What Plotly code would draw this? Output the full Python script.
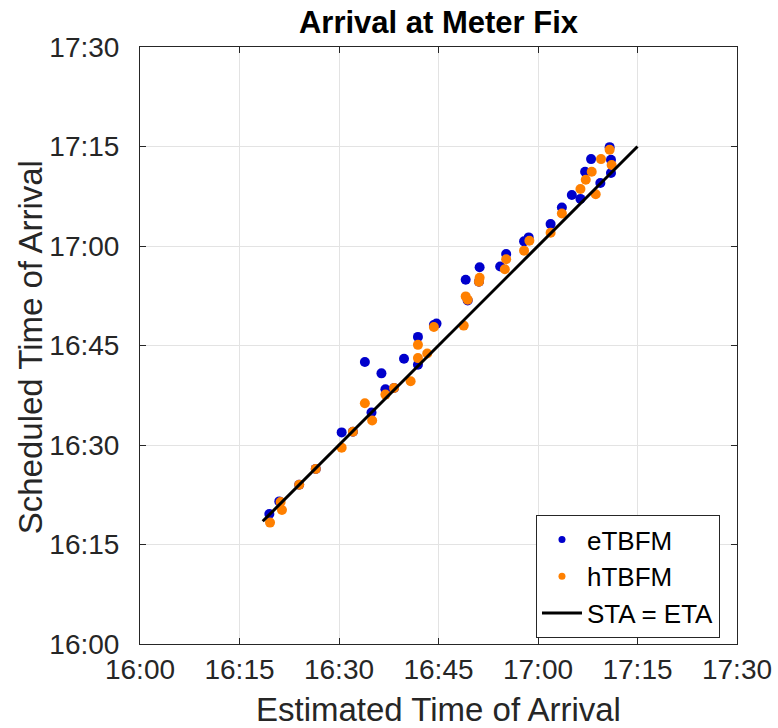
import plotly.graph_objects as go

# minutes after 16:00
etbfm_eta = [19.5, 21.0, 24.0, 26.5, 30.4, 32.1, 33.9, 34.9, 36.4, 37.0, 38.3, 39.8, 41.9, 41.9,
             44.3, 44.7, 49.1, 49.4, 51.1, 51.2, 54.3, 55.2, 57.9, 58.6, 61.9, 63.6, 65.1, 66.4,
             67.1, 68.0, 69.4, 70.8, 71.0, 71.0]
etbfm_sta = [19.6, 21.5, 24.0, 26.4, 31.9, 32.0, 42.5, 34.9, 40.8, 38.4, 38.6, 43.0, 46.3, 42.1,
             48.1, 48.3, 54.9, 51.8, 54.6, 56.8, 56.9, 58.8, 60.7, 61.3, 63.3, 65.8, 67.7, 67.1,
             71.2, 73.1, 69.5, 74.9, 73.0, 71.0]

htbfm_eta = [19.6, 21.2, 21.4, 24.0, 26.5, 30.4, 32.1, 33.9, 35.0, 37.0, 38.3, 40.8, 41.9, 41.9,
             43.3, 44.3, 48.8, 49.1, 49.4, 51.1, 51.2, 55.0, 55.2, 57.9, 58.7, 61.9, 63.6, 66.4,
             67.2, 68.1, 68.7, 69.5, 70.8, 71.1]
htbfm_sta = [18.3, 21.4, 20.2, 24.0, 26.4, 29.6, 32.0, 36.3, 33.7, 37.6, 38.6, 39.6, 45.1, 43.1,
             43.8, 47.8, 48.0, 52.4, 51.9, 54.6, 55.2, 56.5, 58.0, 59.3, 60.8, 62.0, 64.9, 68.6,
             70.0, 71.2, 67.8, 73.1, 74.5, 72.2]

ref_line = [18.5, 75.0]

tick_vals = [0, 15, 30, 45, 60, 75, 90]
tick_labels = ["16:00", "16:15", "16:30", "16:45", "17:00", "17:15", "17:30"]

x_title = "Estimated Time of Arrival"
y_title = "Scheduled Time of Arrival"

BLUE = "#0000cc"
ORANGE = "#ff8000"
AX = "#262626"
FONT = "Liberation Sans, Arial, sans-serif"

W, H = 778, 728
L, T = 140, 47
PW, PH = 597, 597

fig = go.Figure()
fig.add_trace(go.Scatter(x=etbfm_eta, y=etbfm_sta, mode="markers", name="eTBFM", showlegend=False,
                         marker=dict(symbol="circle", size=10, color=BLUE)))
fig.add_trace(go.Scatter(x=htbfm_eta, y=htbfm_sta, mode="markers", name="hTBFM", showlegend=False,
                         marker=dict(symbol="circle", size=10, color=ORANGE)))
fig.add_trace(go.Scatter(x=ref_line, y=ref_line, mode="lines", name="STA = ETA", showlegend=False,
                         line=dict(color="black", width=3)))
# legend entries (smaller markers, as in the reference legend)
fig.add_trace(go.Scatter(x=[None], y=[None], mode="markers", name="eTBFM",
                         marker=dict(symbol="circle", size=7, color=BLUE)))
fig.add_trace(go.Scatter(x=[None], y=[None], mode="markers", name="hTBFM",
                         marker=dict(symbol="circle", size=7, color=ORANGE)))
fig.add_trace(go.Scatter(x=[None], y=[None], mode="lines", name="STA = ETA",
                         line=dict(color="black", width=3)))

axis_common = dict(range=[0, 90], tickvals=tick_vals, ticktext=tick_labels,
                   showgrid=True, gridcolor="#e3e3e3", gridwidth=1,
                   showline=True, linecolor=AX, linewidth=1, mirror="ticks",
                   ticks="inside", ticklen=6, tickcolor=AX,
                   tickfont=dict(family=FONT, size=28, color=AX),
                   ticklabeloverflow="allow", automargin=False,
                   zeroline=False)

fig.update_layout(
    width=W, height=H,
    margin=dict(l=L, r=W - L - PW, t=T, b=H - T - PH),
    paper_bgcolor="white", plot_bgcolor="white",
    title=dict(text="<b>Arrival at Meter Fix</b>", x=(L + PW / 2) / W, xanchor="center",
               y=1 - 11 / H, yanchor="top", pad=dict(t=0, b=0),
               font=dict(family=FONT, size=31, color="black")),
    xaxis=dict(axis_common, ticklabelstandoff=0),
    yaxis=dict(axis_common, ticklabelstandoff=14),
    legend=dict(x=0.9715, y=0.01, xanchor="right", yanchor="bottom",
                bordercolor=AX, borderwidth=1, bgcolor="white",
                font=dict(family=FONT, size=26, color="black"),
                itemwidth=40, tracegroupgap=0),
    showlegend=True,
    annotations=[
        dict(text=x_title, xref="paper", yref="paper", x=0.5, y=-(689 - (T + PH)) / PH,
             xanchor="center", yanchor="top", showarrow=False,
             font=dict(family=FONT, size=33, color=AX)),
        dict(text=y_title, xref="paper", yref="paper", x=(30 - L) / PW, y=0.497,
             xanchor="center", yanchor="middle", textangle=-90, showarrow=False,
             font=dict(family=FONT, size=33, color=AX)),
    ],
)

fig.write_html("out.html", config={"displayModeBar": False},
               post_script="document.body.style.margin='0px';document.body.style.overflow='hidden';")
